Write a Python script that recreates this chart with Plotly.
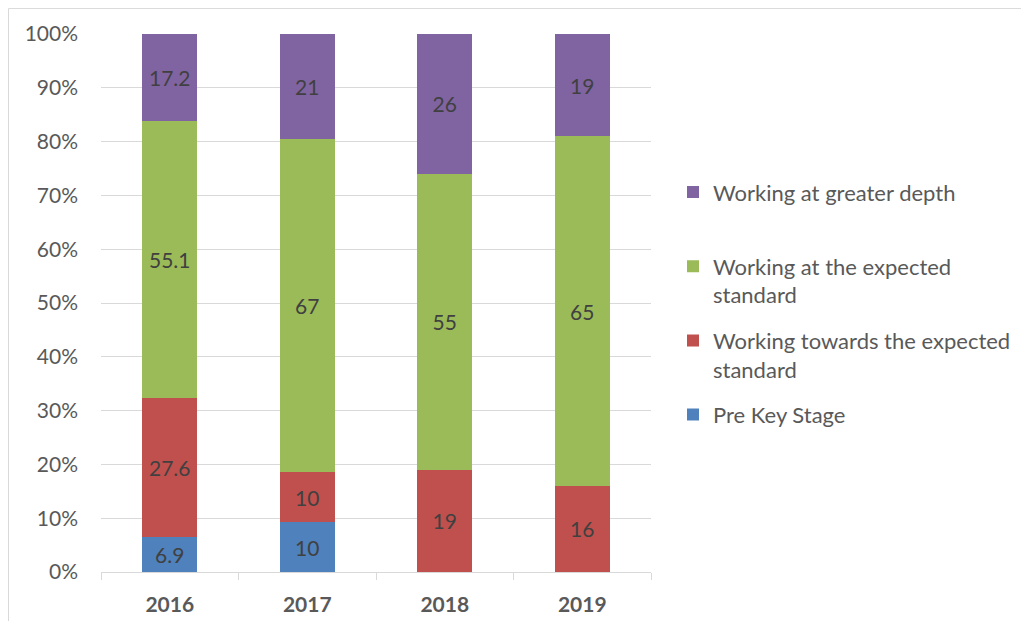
import plotly.graph_objects as go

years = ["2016", "2017", "2018", "2019"]
pre_key_stage = [6.9, 10, None, None]
working_towards = [27.6, 10, 19, 16]
expected_standard = [55.1, 67, 55, 65]
greater_depth = [17.2, 21, 26, 19]

series = [
    ("Pre Key Stage", pre_key_stage, "#4F81BD"),
    ("Working towards the expected<br>standard", working_towards, "#C0504D"),
    ("Working at the expected<br>standard", expected_standard, "#9BBB59"),
    ("Working at greater depth<br>&nbsp;", greater_depth, "#8064A2"),
]

FONT = "Lato, Noto Sans, sans-serif"

fig = go.Figure()
for i, (name, vals, color) in enumerate(series):
    fig.add_trace(go.Bar(
        x=years, y=vals, name=name, legendgroup=str(i), legendrank=10 - i,
        marker=dict(color=color, line=dict(width=0)),
        text=vals, texttemplate="%{text}", textposition="inside",
        insidetextanchor="middle", textangle=0,
        textfont=dict(color="#404040", size=21, family=FONT),
    ))

# page body has an 8px margin, so the figure is shrunk by that much
fig.update_layout(
    barmode="stack",
    barnorm="percent",
    bargap=0.6,
    width=1013, height=613,
    margin=dict(l=93, r=370, t=26, b=49, autoexpand=False),
    paper_bgcolor="white",
    plot_bgcolor="white",
    font=dict(family=FONT, size=21, color="#595959"),
    uniformtext=dict(minsize=10, mode="show"),
    legend=dict(
        x=1.04, y=0.745, xanchor="left", yanchor="top",
        traceorder="grouped", valign="top", tracegroupgap=14,
        font=dict(size=22, color="#595959", family=FONT),
    ),
    shapes=[dict(
        type="rect", xref="paper", yref="paper",
        x0=-0.1682, x1=1.70, y0=-0.12, y1=1.0475,
        line=dict(color="#d9d9d9", width=1), fillcolor="rgba(0,0,0,0)",
    )],
)

fig.update_yaxes(
    range=[0, 100], dtick=10, ticksuffix="%",
    showgrid=True, gridcolor="#d9d9d9", gridwidth=1,
    zeroline=False, showline=False, ticks="", ticklabelstandoff=22,
    tickfont=dict(size=21, color="#595959"),
)
fig.update_xaxes(
    showline=True, linecolor="#d9d9d9", linewidth=1,
    ticks="outside", tickson="boundaries", ticklen=7, tickcolor="#d9d9d9",
    tickfont=dict(size=21, color="#595959", family=FONT, weight="bold"),
    ticklabelstandoff=14,
)

fig.write_html("out.html")
